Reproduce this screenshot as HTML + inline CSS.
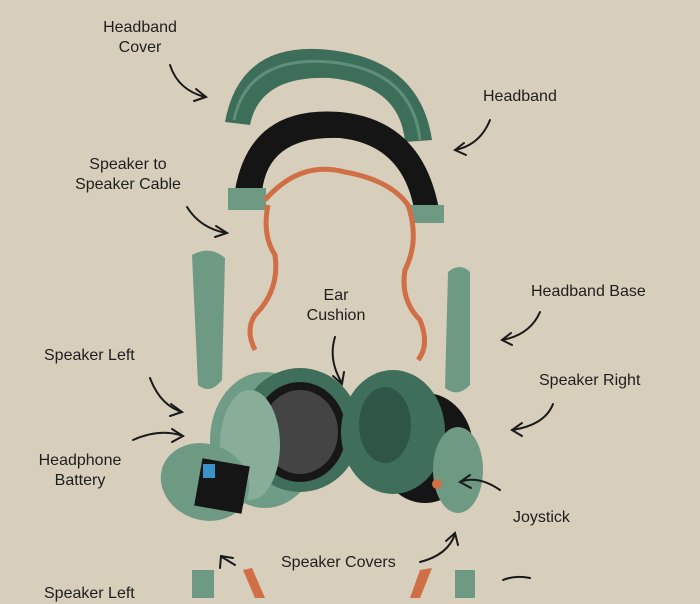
<!DOCTYPE html>
<html><head><style>
html,body{margin:0;padding:0;}
body{width:700px;height:598px;background:#d8cebc;overflow:hidden;position:relative;font-family:"Liberation Sans",sans-serif;}
.t{position:absolute;font-size:16px;color:#1e1e1e;line-height:20px;text-align:center;white-space:nowrap;}
svg{position:absolute;left:0;top:0;}
</style></head><body>
<svg width="700" height="598" viewBox="0 0 700 598">
<!-- headband cover -->
<path d="M225 122 Q240 40 330 50 Q420 60 432 140 L405 142 Q400 85 330 78 Q260 75 250 125 Z" fill="#3d6e59"/>
<path d="M234 120 Q248 55 330 62 Q412 70 420 140" fill="none" stroke="#5f8f78" stroke-width="3"/>
<!-- black headband -->
<path d="M235 190 Q250 105 340 112 Q425 120 440 215 L415 215 Q405 145 340 138 Q268 135 262 192 Z" fill="#151515"/>
<rect x="228" y="188" width="38" height="22" fill="#6e9a84"/>
<rect x="410" y="205" width="34" height="18" fill="#6e9a84"/>
<!-- cable -->
<path d="M265 200 Q300 160 345 172 Q390 180 408 205 Q420 240 405 270 Q400 300 420 320 Q430 345 418 360" fill="none" stroke="#d06e46" stroke-width="5"/>
<path d="M268 205 Q262 235 275 255 Q280 290 255 315 Q245 330 255 350" fill="none" stroke="#d06e46" stroke-width="5"/>
<!-- headband bases -->
<path d="M192 255 Q210 245 225 258 L222 380 Q210 395 198 385 Z" fill="#6e9a84"/>
<path d="M448 272 Q460 262 470 272 L470 385 Q458 398 445 388 Z" fill="#6e9a84"/>
<!-- left cup -->
<ellipse cx="265" cy="440" rx="55" ry="68" fill="#6f9c86"/>
<ellipse cx="300" cy="430" rx="60" ry="62" fill="#3f6e5a"/>
<ellipse cx="300" cy="432" rx="46" ry="50" fill="#171717"/>
<ellipse cx="300" cy="432" rx="38" ry="42" fill="#444"/>
<ellipse cx="250" cy="445" rx="30" ry="55" fill="#88ae9a"/>
<ellipse cx="205" cy="482" rx="45" ry="38" transform="rotate(20 205 482)" fill="#6e9a84"/>
<rect x="198" y="462" width="48" height="48" fill="#151515" transform="rotate(10 222 486)"/>
<rect x="203" y="464" width="12" height="14" fill="#3a93c8"/>
<!-- right cup -->
<ellipse cx="425" cy="448" rx="48" ry="55" fill="#151515"/>
<ellipse cx="393" cy="432" rx="52" ry="62" fill="#3f6e5a"/>
<ellipse cx="385" cy="425" rx="26" ry="38" fill="#2e5546"/>
<ellipse cx="458" cy="470" rx="25" ry="43" fill="#6e9a84"/>
<circle cx="437" cy="484" r="5" fill="#d06e46"/>
<!-- bottom pieces -->
<rect x="192" y="570" width="22" height="28" fill="#6e9a84"/>
<rect x="455" y="570" width="20" height="28" fill="#6e9a84"/>
<path d="M243 570 L252 568 L265 598 L255 598 Z" fill="#d06e46"/>
<path d="M420 570 L432 568 L420 598 L410 598 Z" fill="#d06e46"/>
<g fill="none" stroke="#1a1a1a" stroke-width="2" stroke-linecap="round">
<path d="M170 65 Q178 90 205 97"/><path d="M196 89 L206 97 L194 101"/>
<path d="M490 120 Q480 145 455 150"/><path d="M464 143 L455 150 L466 155"/>
<path d="M187 207 Q200 228 226 233"/><path d="M216 226 L227 233 L215 237"/>
<path d="M540 312 Q530 335 502 340"/><path d="M511 333 L502 340 L512 345"/>
<path d="M335 337 Q328 360 342 383"/><path d="M333 376 L342 384 L344 372"/>
<path d="M150 378 Q160 405 182 412"/><path d="M171 404 L182 412 L170 416"/>
<path d="M133 440 Q160 428 183 436"/><path d="M172 429 L183 436 L172 442"/>
<path d="M553 404 Q545 425 512 430"/><path d="M522 423 L512 430 L522 436"/>
<path d="M500 490 Q478 475 460 482"/><path d="M470 475 L460 482 L471 488"/>
<path d="M420 562 Q448 555 455 534"/><path d="M446 541 L455 533 L458 545"/>
<path d="M235 565 L222 557"/><path d="M220 568 L221 556 L233 558"/>
<path d="M530 578 Q515 575 503 580"/>
</g>
</svg>
<div class="t" style="left:90px;top:18px;width:100px">Headband<br>Cover</div>
<div class="t" style="left:483px;top:87px">Headband</div>
<div class="t" style="left:68px;top:155px;width:120px">Speaker to<br>Speaker Cable</div>
<div class="t" style="left:296px;top:286px;width:80px">Ear<br>Cushion</div>
<div class="t" style="left:531px;top:282px">Headband Base</div>
<div class="t" style="left:44px;top:346px">Speaker Left</div>
<div class="t" style="left:539px;top:371px">Speaker Right</div>
<div class="t" style="left:25px;top:451px;width:110px">Headphone<br>Battery</div>
<div class="t" style="left:513px;top:508px">Joystick</div>
<div class="t" style="left:281px;top:553px">Speaker Covers</div>
<div class="t" style="left:44px;top:584px">Speaker Left</div>
</body></html>
